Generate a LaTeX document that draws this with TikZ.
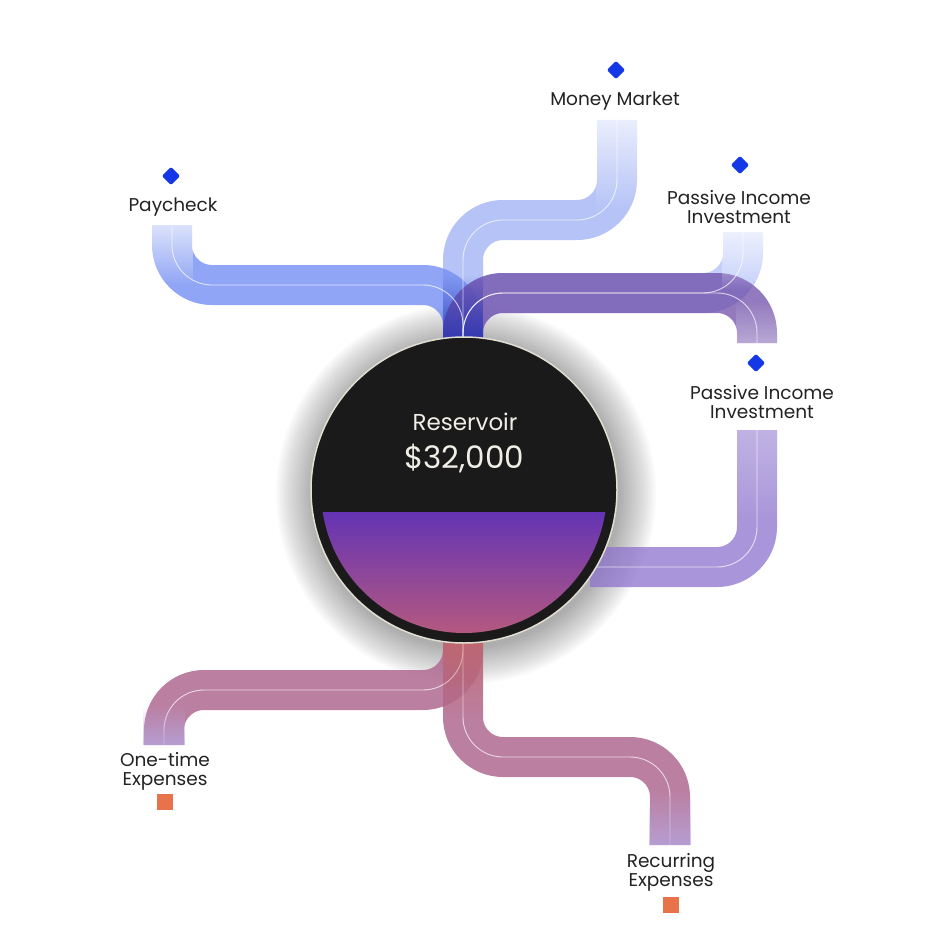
\documentclass[tikz,border=0pt]{standalone}
\usepackage{fontspec}
\setmainfont{Poppins}
\usetikzlibrary{fadings}
\definecolor{mk}{HTML}{1438E6}
\definecolor{sq}{HTML}{E8734A}
\definecolor{ink}{HTML}{222222}
\definecolor{cpay}{RGB}{70,105,238}
\definecolor{cmm}{RGB}{120,145,240}
\definecolor{cp1}{RGB}{150,170,245}
\definecolor{cp2}{RGB}{105,70,165}
\definecolor{cp2b}{RGB}{140,115,205}
\definecolor{cexp}{RGB}{175,105,145}
\definecolor{cwarm}{RGB}{205,100,80}
\definecolor{cdeep}{RGB}{15,35,170}
\definecolor{clav}{RGB}{180,170,230}
\definecolor{cres}{RGB}{26,26,26}
\definecolor{crim}{RGB}{225,222,210}
\definecolor{liqa}{RGB}{100,52,180}
\definecolor{liqb}{RGB}{125,52,160}
\definecolor{liqc}{RGB}{185,90,125}
\definecolor{ctxt}{RGB}{240,238,230}
\tikzset{
  pipe/.style={line width=40pt, line join=round},
  core/.style={draw=white, line width=0.9pt, opacity=0.7, rounded corners=40pt},
  dia/.style={fill=mk, rotate=45, minimum size=13pt, inner sep=0pt, rounded corners=1.5pt},
  sqr/.style={fill=sq, minimum size=16pt, inner sep=0pt},
  lbl/.style={text=ink, font=\fontsize{18.5}{19}\selectfont, align=center, inner sep=0pt}
}
\begin{document}
\begin{tikzpicture}[x=1pt,y=-1pt]
\useasboundingbox (0,0) rectangle (936,936);
\foreach \r in {190,188,...,154}{\fill[black,opacity=0.018] (466,494) circle (\r);}
\coordinate (pc) at (172,225);
\coordinate (mm) at (617,120);
\coordinate (p1) at (743,232);
\coordinate (p2) at (757,343);
\coordinate (p2b) at (757,430);
\coordinate (ot) at (164,745);
\coordinate (rc) at (670,845);
\coordinate (top) at (463,345);
\coordinate (bot) at (463,630);
\coordinate (rgt) at (590,567);
\begin{scope}[rounded corners=40pt]
\draw[pipe,draw=cpay,opacity=0.6] (pc) |- (463,285) -- (top);
\draw[pipe,draw=cmm,opacity=0.55] (mm) |- (463,220) -- (top);
\draw[pipe,draw=cp1,opacity=0.55] (p1) |- (463,293) -- (top);
\draw[pipe,draw=cp2,opacity=0.72] (p2) |- (463,293) -- (top);
\draw[pipe,draw=cp2b,opacity=0.75] (p2b) |- (rgt);
\draw[pipe,draw=cexp,opacity=0.85] (bot) |- (164,690) -- (ot);
\draw[pipe,draw=cexp,opacity=0.85] (bot) |- (670,757) -- (rc);
\end{scope}
\fill[cdeep,opacity=0.7,path fading=north] (443,275) rectangle (483,345);
\draw[core] (pc) |- (463,285) -- (top);
\draw[core] (mm) |- (463,220) -- (top);
\draw[core] (p1) |- (463,293) -- (top);
\draw[core] (p2) |- (463,293) -- (top);
\draw[core] (p2b) |- (rgt);
\draw[core] (bot) |- (164,690) -- (ot);
\draw[core] (bot) |- (670,757) -- (rc);
\fill[cwarm,opacity=0.5,path fading=south] (443,640) rectangle (483,720);
\fill[white,path fading=south,opacity=0.8] (151,215) rectangle (193,285);
\fill[white,path fading=south,opacity=0.8] (596,110) rectangle (638,210);
\fill[white,path fading=south,opacity=0.8] (722,222) rectangle (764,290);
\fill[white,path fading=north,opacity=0.35] (736,300) rectangle (778,343);
\fill[white,path fading=south,opacity=0.3] (736,420) rectangle (778,520);
\fill[clav,path fading=north,opacity=0.7] (143,705) rectangle (185,745);
\fill[clav,path fading=north,opacity=0.7] (649,790) rectangle (691,845);
\node[circle,minimum size=306pt,fill=cres,draw=crim,line width=1.5pt] (res) at (464,490) {};
\begin{scope}
\clip (464,490) circle (143);
\shade[top color=liqa,middle color=liqb,bottom color=liqc] (300,512) rectangle (630,640);
\end{scope}
\node[text=ctxt,font=\fontsize{23}{26}\selectfont] (rl) at (465,422) {Reservoir};
\node[text=ctxt,font=\fontsize{31}{34}\selectfont] (rv) at (464,458) {\$32,000};
\node[dia] (d1) at (171,176) {};
\node[dia] (d2) at (616,70) {};
\node[dia] (d3) at (740,165) {};
\node[dia] (d4) at (756,363) {};
\node[sqr] (s1) at (165,802) {};
\node[sqr] (s2) at (671,905) {};
\node[lbl] (l1) at (173,207) {Paycheck};
\node[lbl] (l2) at (615,101) {Money Market};
\node[lbl] (l3) at (739,207) {Passive Income\\Investment};
\node[lbl] (l4) at (762,402) {Passive Income\\Investment};
\node[lbl] (l5) at (165,771) {One-time\\Expenses};
\node[lbl] (l6) at (671,872) {Recurring\\Expenses};
\end{tikzpicture}
\end{document}
